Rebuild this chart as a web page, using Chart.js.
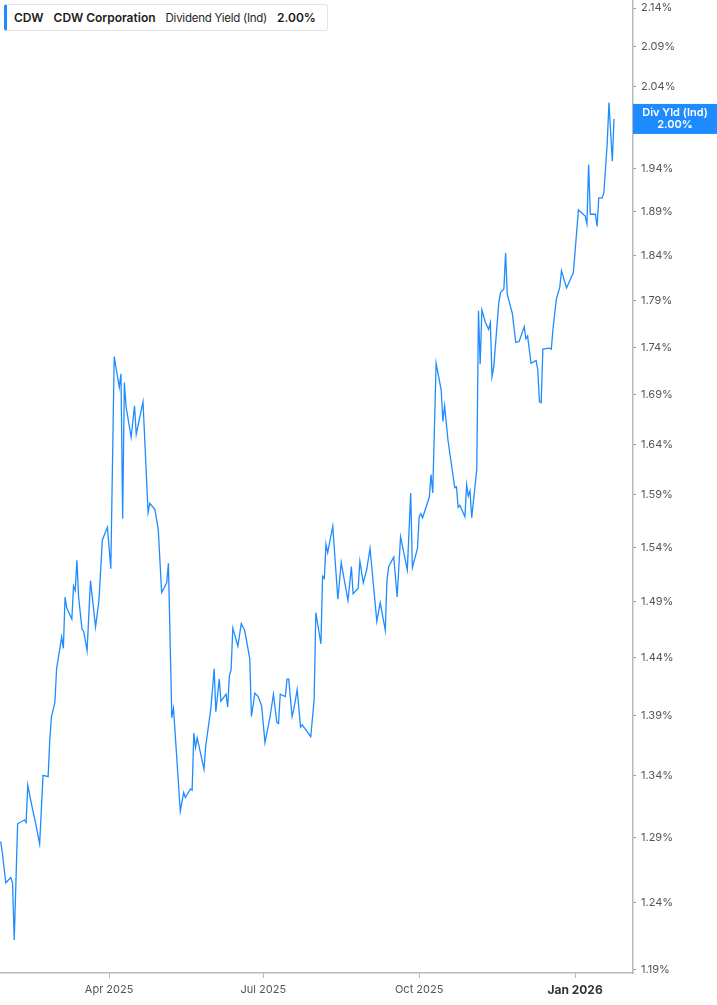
<!DOCTYPE html>
<html>
<head>
<meta charset="utf-8">
<title>CDW Dividend Yield</title>
<script src="https://cdn.jsdelivr.net/npm/chart.js@4.4.1/dist/chart.umd.min.js"></script>
<style>
  html, body { margin: 0; padding: 0; background: #fff; }
  #wrap { position: relative; width: 717px; height: 1005px; }
  #legend {
    position: absolute; left: 4px; top: 4px; width: 324px; height: 27px;
    box-sizing: border-box; background: #fff;
    border: 1px solid #e4e4e4; border-left: 3px solid #1e8cff; border-radius: 3px;
    font: 12px Inter, "Noto Sans", sans-serif; color: #1c1c1c;
    display: flex; align-items: center; padding-left: 7px; white-space: nowrap;
  }
  #legend span { margin-right: 10px; }
  #legend .b { font-weight: 600; }
  #legend .n { font-size: 11.5px; letter-spacing: -0.25px; color: #262626; }
</style>
</head>
<body>
<div id="wrap">
  <canvas id="myChart" width="717" height="1005"></canvas>
  <div id="legend">
    <span class="b">CDW</span>
    <span class="b">CDW Corporation</span>
    <span class="n">Dividend Yield (Ind)</span>
    <span class="b">2.00%</span>
  </div>
</div>
<script>
// days since 2025-01-01 (trading days)
var days = [
  26, 27, 29, 32, 33, 34, 36, 40, 41, 42, 44, 47, 49, 51, 54, 55, 56, 58, 59, 62,
  63, 64, 65, 68, 69, 70, 71, 72, 74, 75, 77, 79, 82, 84, 86, 89, 91,
  93, 96, 97, 98, 99, 100, 103, 105, 106, 110, 113, 114, 117, 119, 121, 124, 125, 127, 128,
  132, 134, 135, 138, 139, 140, 141, 142, 146, 147, 150, 152, 153, 155, 156, 159, 160, 161, 162, 163,
  166, 168, 170, 173, 174, 176, 178, 180, 182, 185, 187, 189, 190, 191, 194, 195, 196, 198, 199, 201,
  203, 204, 209, 211,
  212, 215, 216, 217, 218, 219, 222, 225, 227, 229, 231, 233, 234, 237, 238, 240, 242, 244, 248, 250,
  253, 254, 255, 258, 260, 262, 266, 268, 269, 272, 273, 274, 275, 279, 280, 281,
  283, 286, 287, 288, 290, 294, 295, 296, 297, 300, 301, 302, 303, 304, 307, 308, 309, 310, 312, 314,
  315, 316, 317, 320, 321, 323, 324, 325, 328, 330, 332, 335, 336, 337, 339, 342, 343, 344, 345, 346,
  350, 351, 352, 354, 356, 357, 360, 364, 367, 371, 372, 373, 374, 377, 378, 379, 381, 382, 384, 385,
  387, 388
];

// dividend yield in %
var yields = [
  1.287, 1.278, 1.255, 1.259, 1.255, 1.212, 1.301, 1.304, 1.302, 1.332, 1.318, 1.299, 1.285, 1.340, 1.339, 1.370, 1.389, 1.401, 1.430, 1.458,
  1.448, 1.494, 1.484, 1.474, 1.504, 1.500, 1.528, 1.494, 1.465, 1.463, 1.446, 1.509, 1.467, 1.491, 1.547, 1.559, 1.520,
  1.730, 1.698, 1.712, 1.567, 1.703, 1.678, 1.647, 1.679, 1.650, 1.683, 1.573, 1.582, 1.576, 1.557, 1.498, 1.507, 1.525, 1.388, 1.396,
  1.311, 1.326, 1.322, 1.329, 1.328, 1.375, 1.363, 1.371, 1.345, 1.364, 1.395, 1.430, 1.393, 1.421, 1.402, 1.408, 1.397, 1.424, 1.429, 1.466,
  1.450, 1.470, 1.464, 1.439, 1.389, 1.409, 1.406, 1.398, 1.367, 1.389, 1.408, 1.384, 1.383, 1.408, 1.406, 1.421, 1.421, 1.389, 1.395, 1.412,
  1.380, 1.382, 1.372, 1.403,
  1.480, 1.452, 1.513, 1.511, 1.543, 1.535, 1.560, 1.492, 1.526, 1.508, 1.491, 1.522, 1.497, 1.502, 1.527, 1.507, 1.519, 1.539, 1.472, 1.489,
  1.464, 1.510, 1.522, 1.531, 1.494, 1.550, 1.519, 1.592, 1.521, 1.539, 1.569, 1.572, 1.568, 1.588, 1.610, 1.592,
  1.723, 1.695, 1.663, 1.679, 1.644, 1.597, 1.598, 1.578, 1.580, 1.569, 1.600, 1.589, 1.594, 1.568, 1.615, 1.779, 1.722, 1.780, 1.767, 1.759,
  1.766, 1.709, 1.719, 1.788, 1.799, 1.803, 1.843, 1.797, 1.776, 1.745, 1.746, 1.762, 1.749, 1.752, 1.723, 1.726, 1.716, 1.683, 1.682, 1.738,
  1.739, 1.738, 1.760, 1.792, 1.805, 1.823, 1.804, 1.821, 1.892, 1.885, 1.876, 1.945, 1.887, 1.887, 1.873, 1.906, 1.906, 1.912, 1.971, 2.020,
  1.949, 2.000
];

var yTicks = [1.19, 1.24, 1.29, 1.34, 1.39, 1.44, 1.49, 1.54, 1.59, 1.64, 1.69, 1.74, 1.79, 1.84, 1.89, 1.94, 1.99, 2.04, 2.09, 2.14];
var xTicks = [90, 181, 273, 365];
var xTickLabels = ['Apr 2025', 'Jul 2025', 'Oct 2025', 'Jan 2026'];

var blue = '#1e8cff';

// price-tag style label for the last value on the right axis
var lastLabel = {
  id: 'lastLabel',
  afterDraw: function (chart) {
    var ctx = chart.ctx;
    var area = chart.chartArea;
    var last = yields[yields.length - 1];
    var y = chart.scales.y.getPixelForValue(last);
    var cx = (area.right + chart.width) / 2;
    ctx.save();
    ctx.fillStyle = blue;
    ctx.fillRect(area.right, y - 15, chart.width - area.right, 30);
    ctx.fillStyle = '#fff';
    ctx.font = '600 11px Inter, sans-serif';
    ctx.textAlign = 'center';
    ctx.textBaseline = 'middle';
    ctx.fillText('Div Yld (Ind)', cx, y - 6);
    ctx.fillText(last.toFixed(2) + '%', cx, y + 6);
    ctx.restore();
  }
};

var ctx = document.getElementById('myChart').getContext('2d');
var myChart = new Chart(ctx, {
  type: 'line',
  data: {
    datasets: [{
      label: 'Dividend Yield (Ind)',
      data: days.map(function (d, i) { return { x: d, y: yields[i] }; }),
      borderColor: blue,
      borderWidth: 1.3,
      pointRadius: 0,
      tension: 0,
      fill: false
    }]
  },
  options: {
    responsive: false,
    animation: false,
    layout: { padding: 0 },
    plugins: {
      legend: { display: false },
      tooltip: { enabled: false }
    },
    scales: {
      x: {
        type: 'linear',
        min: 25.6,
        max: 399.2,
        afterBuildTicks: function (axis) {
          axis.ticks = xTicks.map(function (v) { return { value: v }; });
        },
        afterFit: function (axis) {
          axis.height = 32;
          axis.paddingLeft = 0;
          axis.paddingRight = 0;
        },
        ticks: {
          autoSkip: false,
          maxRotation: 0,
          padding: 5,
          color: function (c) { return c.index === 3 ? '#333' : '#555'; },
          font: function (c) {
            return c.index === 3
              ? { family: 'Inter', size: 12, weight: '700' }
              : { family: 'Inter', size: 11, weight: '400' };
          },
          callback: function (v, i) { return xTickLabels[i]; }
        },
        grid: { drawOnChartArea: false, drawTicks: true, tickLength: 5, color: '#b8b8b8' },
        border: { color: '#b8b8b8', width: 1.5 }
      },
      y: {
        type: 'logarithmic',
        position: 'right',
        min: 1.1878,
        max: 2.1505,
        afterBuildTicks: function (axis) {
          axis.ticks = yTicks.map(function (v) { return { value: v }; });
        },
        afterFit: function (axis) {
          axis.width = 84;
          axis.paddingTop = 0;
          axis.paddingBottom = 0;
        },
        ticks: {
          autoSkip: false,
          padding: 5,
          color: '#555',
          font: { family: 'Inter', size: 11 },
          callback: function (v) { return Number(v).toFixed(2) + '%'; }
        },
        grid: { drawOnChartArea: false, drawTicks: true, tickLength: 3, color: '#999' },
        border: { color: '#b8b8b8', width: 1.5 }
      }
    }
  },
  plugins: [lastLabel]
});
</script>
</body>
</html>
